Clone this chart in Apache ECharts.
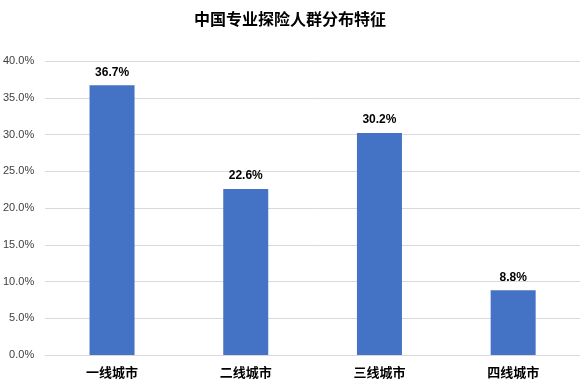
<!DOCTYPE html>
<html><head><meta charset="utf-8">
<script src="https://cdn.jsdelivr.net/npm/echarts@6/dist/echarts.min.js"></script>
<style>html,body{margin:0;padding:0;background:#fff}#c{width:580px;height:382px}</style>
</head><body><div id="c"></div>
<script>
const categories = ['一线城市', '二线城市', '三线城市', '四线城市'];
const values = [36.7, 22.6, 30.2, 8.8];
const titleText = '中国专业探险人群分布特征';
const chart = echarts.init(document.getElementById('c'), null, {renderer: 'canvas'});
chart.setOption({
  animation: false,
  title: {text: titleText, left: 'center', top: 6,
    textStyle: {fontFamily: 'Noto Sans CJK SC', fontSize: 16, fontWeight: 'bold', color: '#000'}},
  grid: {left: 43, right: 0, top: 61, bottom: 27},
  xAxis: {type: 'category', data: categories,
    axisLine: {lineStyle: {color: '#d9d9d9'}}, axisTick: {show: false},
    axisLabel: {fontFamily: 'Noto Sans CJK SC', fontSize: 13, fontWeight: 'bold', color: '#000', margin: 11}},
  yAxis: {type: 'value', min: 0, max: 40, interval: 5,
    axisLine: {show: false}, axisTick: {show: false},
    splitLine: {lineStyle: {color: '#d9d9d9'}},
    axisLabel: {formatter: v => v.toFixed(1) + '%', fontFamily: 'Liberation Sans', fontSize: 11, color: '#404040', margin: 11}},
  series: [{type: 'bar', data: values, barWidth: 45,
    itemStyle: {color: '#4472C4'},
    label: {show: true, position: 'top', distance: 7, formatter: p => p.value.toFixed(1) + '%',
      fontFamily: 'Liberation Sans', fontSize: 12, fontWeight: 'bold', color: '#000'}}]
});
</script></body></html>
